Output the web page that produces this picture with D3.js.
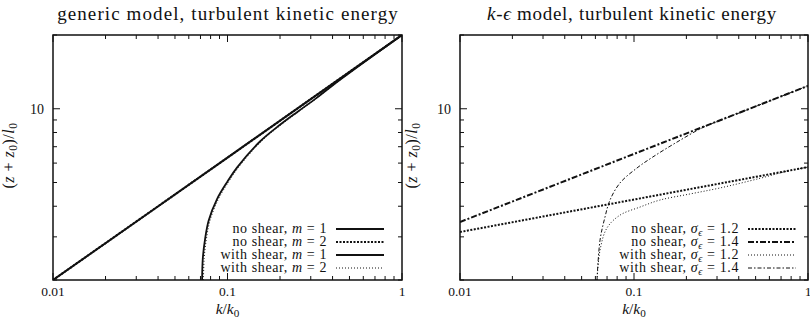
<!DOCTYPE html>
<html>
<head>
<meta charset="utf-8">
<script src="https://cdn.jsdelivr.net/npm/d3@7.9.0/dist/d3.min.js"></script>
<style>
  body { margin: 0; background: #fff; }
  svg text { font-family: "Liberation Serif", "DejaVu Serif", serif; fill: #111; }
</style>
</head>
<body>
<svg id="chart" width="810" height="322"></svg>
<script>
// ---- data ----
const xTickValues = [0.01, 0.1, 1];
const xTickLabels = ['0.01', '0.1', '1'];
const yTickValues = [10];
const yTickLabels = ['10'];

// generic model
const genNoShearK = [0.01, 0.1, 1];
const genNoShearM1 = [2, 6.32, 20];
const genNoShearM2 = [2, 6.32, 20];
const genShearM1K = [0.0715, 0.0722, 0.0744, 0.078, 0.0871, 0.1, 0.1133, 0.1535, 0.2, 0.2535, 0.32, 0.4, 0.6, 1.0];
const genShearM1Z = [2.0, 2.45, 2.94, 3.5, 4.28, 5.05, 5.75, 7.35, 8.6, 9.75, 11.0, 12.45, 15.4, 20];
const genShearM2K = [0.0728, 0.0735, 0.0757, 0.0794, 0.0887, 0.1018, 0.1153, 0.156, 0.203, 0.257, 0.323, 0.403, 0.602, 1.0];
const genShearM2Z = [2.0, 2.45, 2.94, 3.5, 4.28, 5.05, 5.75, 7.35, 8.6, 9.75, 11.0, 12.45, 15.4, 20];

// k-epsilon model
const keNoShearK = [0.01, 1];
const keNoShear12 = [3.14, 5.78];
const keNoShear14 = [3.45, 12.4];
const keShear12K = [0.0613, 0.0638, 0.0699, 0.0831, 0.1083, 0.141, 0.21, 0.312, 0.53, 0.75, 1.0];
const keShear12Z = [2.0, 2.65, 3.26, 3.68, 3.97, 4.24, 4.49, 4.75, 5.2, 5.55, 5.78];
const keShear14K = [0.0613, 0.0638, 0.0681, 0.0728, 0.0831, 0.104, 0.1285, 0.1766, 0.25, 0.35, 0.5, 0.7, 1.0];
const keShear14Z = [2.0, 2.91, 3.61, 4.24, 4.98, 5.73, 6.36, 7.31, 8.4, 9.24, 10.22, 11.23, 12.4];

const svg = d3.select('#chart');
const plotTop = 35, plotBottom = 280;

const thickSolid = { width: 2, dash: null };
const thickDot = { width: 2, dash: '2,1.5' };
const thinSolid = { width: 1.8, dash: null };
const thinDot = { width: 1, dash: '1,2' };
const thickDashDot = { width: 2, dash: '6,2,2,2' };
const thinDashDot = { width: 1, dash: '4,2,1.5,2' };

const zip = (ks, zs) => ks.map((k, i) => ({ k: k, z: zs[i] }));

const panels = [
  {
    x0: 53, x1: 402, ylabelDx: 39,
    title: [{ t: 'generic model, turbulent kinetic energy' }], titleSpacing: 1.1, titleX: 228,
    legendX: 327,
    series: [
      { label: [{ t: 'no shear, ' }, { t: 'm', i: true }, { t: ' = 1' }], data: zip(genNoShearK, genNoShearM1), style: thickSolid },
      { label: [{ t: 'no shear, ' }, { t: 'm', i: true }, { t: ' = 2' }], data: zip(genNoShearK, genNoShearM2), style: thickDot },
      { label: [{ t: 'with shear, ' }, { t: 'm', i: true }, { t: ' = 1' }], data: zip(genShearM1K, genShearM1Z), style: thinSolid },
      { label: [{ t: 'with shear, ' }, { t: 'm', i: true }, { t: ' = 2' }], data: zip(genShearM2K, genShearM2Z), style: thinDot }
    ]
  },
  {
    x0: 460, x1: 808, ylabelDx: 43,
    title: [{ t: 'k', i: true }, { t: '-' }, { t: 'ϵ', i: true }, { t: ' model, turbulent kinetic energy' }], titleSpacing: 0.7, titleX: 632,
    legendX: 739,
    series: [
      { label: [{ t: 'no shear, ' }, { t: 'σ', i: true }, { t: 'ϵ', i: true, sub: true }, { t: ' = 1.2', up: true }], data: zip(keNoShearK, keNoShear12), style: thickDot },
      { label: [{ t: 'no shear, ' }, { t: 'σ', i: true }, { t: 'ϵ', i: true, sub: true }, { t: ' = 1.4', up: true }], data: zip(keNoShearK, keNoShear14), style: thickDashDot },
      { label: [{ t: 'with shear, ' }, { t: 'σ', i: true }, { t: 'ϵ', i: true, sub: true }, { t: ' = 1.2', up: true }], data: zip(keShear12K, keShear12Z), style: thinDot },
      { label: [{ t: 'with shear, ' }, { t: 'σ', i: true }, { t: 'ϵ', i: true, sub: true }, { t: ' = 1.4', up: true }], data: zip(keShear14K, keShear14Z), style: thinDashDot }
    ]
  }
];

function addParts(text, parts) {
  parts.forEach(p => {
    const ts = text.append('tspan').text(p.t);
    if (p.i) ts.style('font-style', 'italic');
    if (p.sub) ts.attr('dy', 3).style('font-size', '0.72em');
    if (p.up) ts.attr('dy', -3);
  });
}

function minorTicks(lo, hi) {
  const out = [];
  for (let e = Math.floor(Math.log10(lo)); e <= Math.ceil(Math.log10(hi)); e++) {
    for (let m = 1; m < 10; m++) {
      const v = m * Math.pow(10, e);
      if (v >= lo * 0.999 && v <= hi * 1.001) out.push(v);
    }
  }
  return out;
}

panels.forEach((p, pi) => {
  const x = d3.scaleLog().domain([0.01, 1]).range([p.x0, p.x1]);
  const y = d3.scaleLog().domain([2, 20]).range([plotBottom, plotTop]);
  const g = svg.append('g');

  g.append('clipPath').attr('id', 'clip' + pi)
    .append('rect').attr('x', p.x0).attr('y', plotTop).attr('width', p.x1 - p.x0).attr('height', plotBottom - plotTop);

  // ticks on all four sides, pointing in
  minorTicks(0.01, 1).forEach(v => {
    const len = xTickValues.includes(v) ? 7 : 4;
    g.append('line').attr('x1', x(v)).attr('x2', x(v)).attr('y1', plotBottom).attr('y2', plotBottom - len)
      .attr('stroke', '#111').attr('stroke-width', 1);
    g.append('line').attr('x1', x(v)).attr('x2', x(v)).attr('y1', plotTop).attr('y2', plotTop + len)
      .attr('stroke', '#111').attr('stroke-width', 1);
  });
  minorTicks(2, 20).forEach(v => {
    const len = yTickValues.includes(v) ? 7 : 4;
    g.append('line').attr('x1', p.x0).attr('x2', p.x0 + len).attr('y1', y(v)).attr('y2', y(v))
      .attr('stroke', '#111').attr('stroke-width', 1);
    g.append('line').attr('x1', p.x1).attr('x2', p.x1 - len).attr('y1', y(v)).attr('y2', y(v))
      .attr('stroke', '#111').attr('stroke-width', 1);
  });

  // border
  g.append('rect').attr('x', p.x0).attr('y', plotTop).attr('width', p.x1 - p.x0).attr('height', plotBottom - plotTop)
    .attr('fill', 'none').attr('stroke', '#111').attr('stroke-width', 1.5);

  // tick labels
  xTickValues.forEach((v, i) => {
    g.append('text').attr('x', x(v)).attr('y', 296).attr('text-anchor', 'middle')
      .style('font-size', '13.5px').text(xTickLabels[i]);
  });
  yTickValues.forEach((v, i) => {
    g.append('text').attr('x', p.x0 - 9).attr('y', y(v) + 5).attr('text-anchor', 'end')
      .style('font-size', '14px').text(yTickLabels[i]);
  });

  // titles and axis labels
  const title = g.append('text').attr('x', p.titleX).attr('y', 20).attr('text-anchor', 'middle')
    .style('font-size', '19px').style('letter-spacing', p.titleSpacing + 'px');
  addParts(title, p.title);

  const xl = g.append('text').attr('x', x(0.1)).attr('y', 314).attr('text-anchor', 'middle').style('font-size', '15.5px');
  addParts(xl, [{ t: 'k', i: true }, { t: '/' }, { t: 'k', i: true }, { t: '0', sub: true }]);

  const yl = g.append('text').attr('transform', `translate(${p.x0 - p.ylabelDx},${(plotTop + plotBottom) / 2 - 2}) rotate(-90)`)
    .attr('text-anchor', 'middle').style('font-size', '16px').style('letter-spacing', '0.5px');
  addParts(yl, [{ t: '(' }, { t: 'z', i: true }, { t: ' + ' }, { t: 'z', i: true }, { t: '0', sub: true },
    { t: ')/', up: true }, { t: 'l', i: true }, { t: '0', sub: true }]);

  // curves
  const line = d3.line().x(d => x(d.k)).y(d => y(d.z)).curve(d3.curveCatmullRom.alpha(0.5));
  p.series.forEach(s => {
    g.append('path').datum(s.data).attr('d', line)
      .attr('clip-path', `url(#clip${pi})`)
      .attr('fill', 'none').attr('stroke', '#111')
      .attr('stroke-width', s.style.width)
      .attr('stroke-dasharray', s.style.dash);
  });

  // legend
  p.series.forEach((s, i) => {
    const ly = 229 + i * 13;
    const t = g.append('text').attr('x', p.legendX).attr('y', ly + 4).attr('text-anchor', 'end')
      .style('font-size', '14px').style('letter-spacing', '0.6px');
    addParts(t, s.label);
    g.append('line').attr('x1', p.legendX + 9).attr('x2', p.legendX + 57).attr('y1', ly).attr('y2', ly)
      .attr('stroke', '#111').attr('stroke-width', s.style.width)
      .attr('stroke-dasharray', s.style.dash);
  });
});
</script>
</body>
</html>
